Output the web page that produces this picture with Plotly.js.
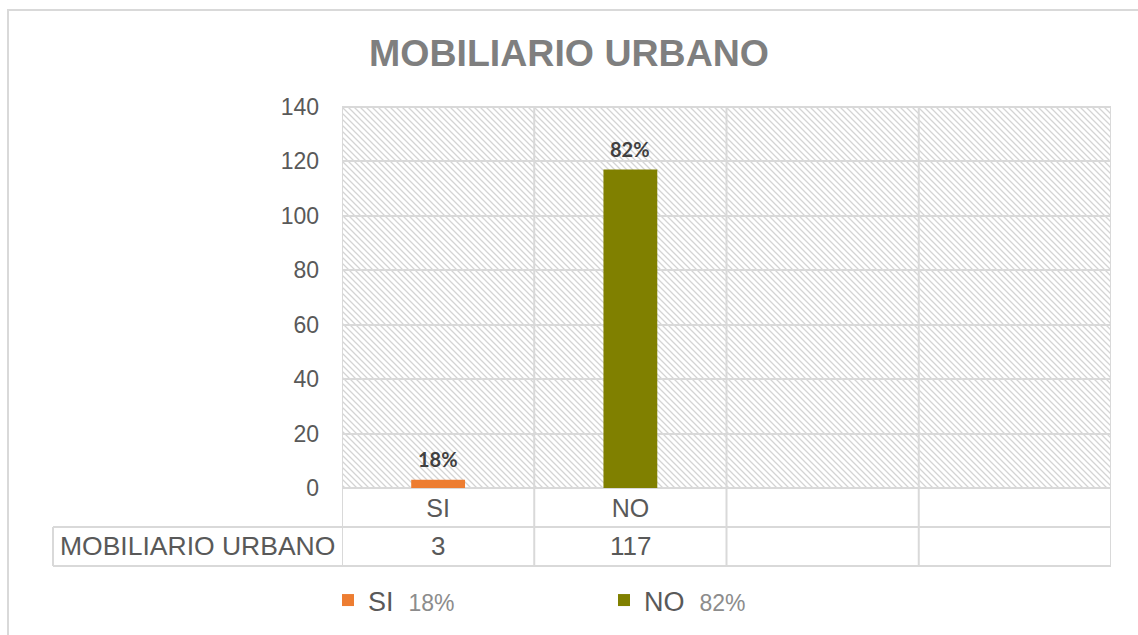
<!DOCTYPE html>
<html>
<head>
<meta charset="utf-8">
<script src="https://cdn.plot.ly/plotly-3.0.1.min.js"></script>
<style>html,body{margin:0;padding:0;background:#fff;}#chart{width:1138px;height:635px;}</style>
</head>
<body>
<div id="chart"></div>
<script>
// ---- data ----
const chartTitle = 'MOBILIARIO URBANO';
const seriesName = 'MOBILIARIO URBANO';
const categories = ['SI', 'NO', '', ''];
const values = [3, 117];
const percents = ['18%', '82%'];
const barColors = ['#ED7D31', '#808000'];
const yTicks = [0, 20, 40, 60, 80, 100, 120, 140];

// ---- geometry helpers (layout only) ----
const W = 1138, H = 635;
const M = {l: 342, r: 27, t: 107, b: 147, autoexpand: false};
const plotW = W - M.l - M.r, plotH = H - M.t - M.b;
const px2x = px => (px - M.l) / plotW;
const px2y = py => (H - M.b - py) / plotH;

const grid = '#d9d9d9';
const textCol = '#595959';
const font = 'Liberation Sans, Arial, sans-serif';

const nCat = categories.length;

const traces = values.map((v, i) => ({
  type: 'bar',
  x: [i],
  y: [v],
  name: categories[i] + '  <span style="color:#8c8c8c;font-size:23px">' + percents[i] + '</span>',
  marker: {color: barColors[i]},
  width: 0.28,
  hoverinfo: 'skip'
}));

// hatch background
const hatchSvg = `<svg xmlns="http://www.w3.org/2000/svg" width="${plotW}" height="${plotH}" viewBox="0 0 ${plotW} ${plotH}" preserveAspectRatio="none"><defs><pattern id="p" width="6" height="6" patternUnits="userSpaceOnUse"><path d="M-1,-1 L7,7 M-4,2 L2,8 M4,-2 L8,2" stroke="#d4d4d4" stroke-width="1.3"/></pattern></defs><rect width="100%" height="100%" fill="#fff"/><rect width="100%" height="100%" fill="url(#p)"/></svg>`;
const hatchURI = 'data:image/svg+xml;charset=utf-8,' + encodeURIComponent(hatchSvg);

const yRow1 = px2y(527), yRow2 = px2y(566);
const xTableLeft = px2x(53);

const shapes = [];
// outer chart border
shapes.push({type: 'rect', xref: 'paper', yref: 'paper', x0: px2x(8), x1: px2x(1160), y0: px2y(660), y1: px2y(10), line: {color: grid, width: 2}, layer: 'below'});
// vertical category dividers down through the table
for (let k = 0; k <= nCat; k++) {
  shapes.push({type: 'line', xref: 'x', yref: 'paper', x0: k - 0.5, x1: k - 0.5, y0: yRow2, y1: 1, line: {color: grid, width: 2}});
}
// table horizontals
shapes.push({type: 'line', xref: 'paper', yref: 'paper', x0: xTableLeft, x1: 1, y0: yRow1, y1: yRow1, line: {color: grid, width: 2}});
shapes.push({type: 'line', xref: 'paper', yref: 'paper', x0: xTableLeft, x1: 1, y0: yRow2, y1: yRow2, line: {color: grid, width: 2}});
shapes.push({type: 'line', xref: 'paper', yref: 'paper', x0: xTableLeft, x1: xTableLeft, y0: yRow1, y1: yRow2, line: {color: grid, width: 2}});
// top border of plot
shapes.push({type: 'line', xref: 'paper', yref: 'paper', x0: 0, x1: 1, y0: 1, y1: 1, line: {color: grid, width: 2}});

const annotations = [];
// value row
values.forEach((v, i) => {
  annotations.push({xref: 'x', yref: 'paper', x: i, y: (yRow1 + yRow2) / 2, text: String(v), showarrow: false, xanchor: 'center', yanchor: 'middle', yshift: 1, font: {family: font, size: 26, color: textCol}});
});
annotations.push({xref: 'paper', yref: 'paper', x: (xTableLeft + 0) / 2, y: (yRow1 + yRow2) / 2, text: seriesName, showarrow: false, xanchor: 'center', yanchor: 'middle', yshift: 1, font: {family: font, size: 26.5, color: textCol}});
// data labels
values.forEach((v, i) => {
  annotations.push({xref: 'x', yref: 'y', x: i, y: v, text: '<b>' + percents[i] + '</b>', showarrow: false, xanchor: 'center', yanchor: 'bottom', yshift: 7, font: {family: 'Lato, Open Sans, sans-serif', size: 20, color: '#404040'}});
});

const layout = {
  width: W, height: H,
  margin: M,
  paper_bgcolor: '#ffffff',
  plot_bgcolor: 'rgba(0,0,0,0)',
  barmode: 'overlay',
  showlegend: true,
  title: {text: '<b>' + chartTitle + '</b>', x: 0.5, xref: 'container', xanchor: 'center', y: 1 - 53 / H, yref: 'container', yanchor: 'middle', font: {family: font, size: 37.5, color: '#7f7f7f'}},
  xaxis: {
    range: [-0.5, nCat - 0.5],
    tickmode: 'array',
    tickvals: categories.map((c, i) => i),
    ticktext: categories,
    showgrid: false, zeroline: false, showline: false,
    ticks: '', tickfont: {family: font, size: 25, color: textCol},
    ticklabelstandoff: 3,
    fixedrange: true
  },
  yaxis: {
    range: [0, 140],
    tickmode: 'array', tickvals: yTicks,
    showgrid: true, gridcolor: grid, gridwidth: 2,
    zeroline: true, zerolinecolor: grid, zerolinewidth: 2,
    showline: false, ticks: '',
    tickfont: {family: font, size: 23, color: textCol},
    ticklabelstandoff: 22,
    fixedrange: true
  },
  legend: {
    orientation: 'h', x: px2x(328), xanchor: 'left', y: px2y(576), yanchor: 'top',
    font: {family: font, size: 27, color: textCol},
    entrywidth: 231, itemwidth: 30, bgcolor: 'rgba(0,0,0,0)',
    traceorder: 'normal'
  },
  images: [{source: hatchURI, xref: 'paper', yref: 'paper', x: 0, y: 1, sizex: 1, sizey: 1, xanchor: 'left', yanchor: 'top', sizing: 'stretch', layer: 'below'}],
  shapes: shapes,
  annotations: annotations
};

Plotly.newPlot('chart', traces, layout, {displayModeBar: false, staticPlot: true});
</script>
</body>
</html>
